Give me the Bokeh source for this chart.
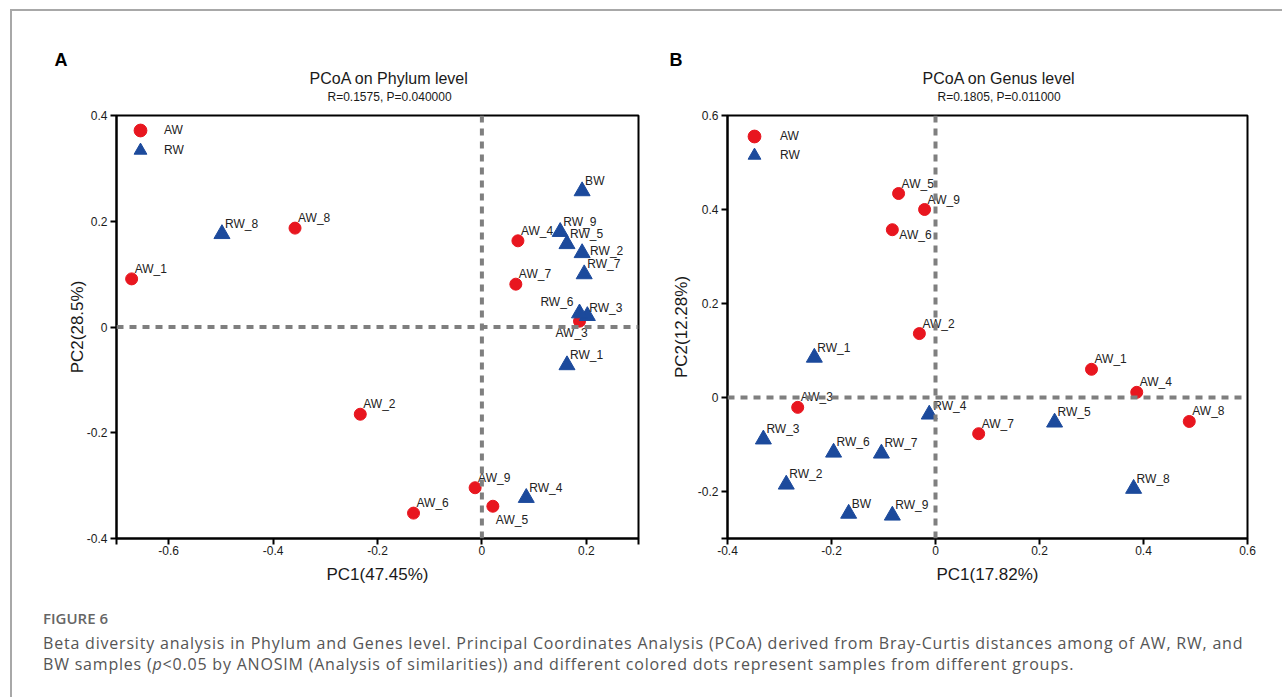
from bokeh.plotting import figure
from bokeh.models import (Range1d, FixedTicker, Span, Title, Legend, LegendItem,
                          CustomJSTickFormatter, ColumnDataSource, Div)
from bokeh.layouts import column, row
from bokeh.embed import file_html
from bokeh.resources import INLINE
from bokeh.core.properties import value

# ---------------- data: panel A (Phylum) ----------------
a_aw_names = ["AW_1", "AW_2", "AW_3", "AW_4", "AW_5", "AW_6", "AW_7", "AW_8", "AW_9"]
a_aw_pc1 = [-0.671, -0.233, 0.187, 0.069, 0.021, -0.131, 0.065, -0.358, -0.013]
a_aw_pc2 = [0.091, -0.165, 0.011, 0.163, -0.339, -0.352, 0.081, 0.187, -0.304]
a_rw_names = ["RW_1", "RW_2", "RW_3", "RW_4", "RW_5", "RW_6", "RW_7", "RW_8", "RW_9", "BW"]
a_rw_pc1 = [0.163, 0.192, 0.202, 0.085, 0.163, 0.187, 0.196, -0.498, 0.150, 0.192]
a_rw_pc2 = [-0.072, 0.140, 0.021, -0.323, 0.157, 0.026, 0.100, 0.176, 0.180, 0.257]

# ---------------- data: panel B (Genus) ----------------
b_aw_names = ["AW_1", "AW_2", "AW_3", "AW_4", "AW_5", "AW_6", "AW_7", "AW_8", "AW_9"]
b_aw_pc1 = [0.300, -0.031, -0.265, 0.387, -0.071, -0.083, 0.083, 0.488, -0.021]
b_aw_pc2 = [0.060, 0.136, -0.021, 0.011, 0.434, 0.357, -0.077, -0.051, 0.400]
b_rw_names = ["RW_1", "RW_2", "RW_3", "RW_4", "RW_5", "RW_6", "RW_7", "RW_8", "RW_9", "BW"]
b_rw_pc1 = [-0.233, -0.287, -0.331, -0.012, 0.229, -0.196, -0.104, 0.381, -0.083, -0.167]
b_rw_pc2 = [0.085, -0.185, -0.089, -0.036, -0.053, -0.117, -0.119, -0.194, -0.251, -0.247]

# tick labels
a_xticks = [-0.6, -0.4, -0.2, 0, 0.2]
a_yticks = [-0.4, -0.2, 0, 0.2, 0.4]
b_xticks = [-0.4, -0.2, 0, 0.2, 0.4, 0.6]
b_yticks = [-0.2, 0, 0.2, 0.4, 0.6]

# label placement exceptions (pixel offsets, style only)
a_label_style = {"RW_2": (8, -2, "left"), "RW_6": (-6, -11, "right"), "RW_3": (2, -8, "left"),
                 "AW_3": (-24, 12, "left"), "AW_5": (3, 14, "left")}
b_label_style = {"AW_6": (7, 5, "left"), "RW_4": (4, -8, "left")}

RED = "#e8161f"
BLUE = "#1c4a9c"
FONT = "Liberation Sans"


def make_panel(aw, rw, xr, yr, xt, yt, xminor, yminor, xlabel, ylabel, main, sub, letter,
               width, height, mb, leg_pos, leg_standoff, lstyle, title_offsets, ylab_standoff):
    p = figure(width=width, height=height, x_range=Range1d(*xr), y_range=Range1d(*yr),
               output_backend="svg", toolbar_location=None, title=None,
               min_border_left=mb[0], min_border_right=mb[1], min_border_top=mb[2],
               min_border_bottom=mb[3], background_fill_color="white",
               border_fill_color="white")
    p.grid.visible = False
    p.outline_line_color = "black"
    p.outline_line_width = 2
    p.outline_line_alpha = 1

    fmt = CustomJSTickFormatter(code="return Number(tick.toFixed(1)).toString();")
    p.xaxis.ticker = FixedTicker(ticks=xt, minor_ticks=xminor)
    p.yaxis.ticker = FixedTicker(ticks=yt, minor_ticks=yminor)
    for ax in (p.xaxis[0], p.yaxis[0]):
        ax.formatter = fmt
        ax.axis_line_width = 2
        ax.axis_line_color = "black"
        ax.major_tick_line_width = 2
        ax.major_tick_out = 6
        ax.major_tick_in = 0
        ax.minor_tick_line_width = 2
        ax.minor_tick_out = 6
        ax.minor_tick_in = 0
        ax.major_label_text_font = FONT
        ax.major_label_text_font_size = "12px"
        ax.major_label_text_color = "#1a1a1a"
        ax.axis_label_text_font = FONT
        ax.axis_label_text_font_size = "17px"
        ax.axis_label_text_font_style = "normal"
        ax.axis_label_text_color = "#1a1a1a"
    p.xaxis.axis_label = xlabel
    p.yaxis.axis_label = ylabel
    p.xaxis.major_label_standoff = 1
    p.yaxis.major_label_standoff = 3
    p.xaxis.axis_label_standoff = 7
    p.yaxis.axis_label_standoff = ylab_standoff

    for dim in ("width", "height"):
        p.add_layout(Span(location=0, dimension=dim, line_color="#7f7f7f",
                          line_width=4, line_dash="7 6"))

    names_aw, x_aw, y_aw = aw
    names_rw, x_rw, y_rw = rw
    s_aw = ColumnDataSource(dict(x=x_aw, y=y_aw, name=names_aw))
    s_rw = ColumnDataSource(dict(x=x_rw, y=y_rw, name=names_rw))
    r_aw = p.scatter("x", "y", source=s_aw, marker="circle", size=12,
                     fill_color=RED, line_color=RED)
    r_rw = p.scatter("x", "y", source=s_rw, marker="triangle", size=16,
                     fill_color=BLUE, line_color=BLUE)

    names = list(names_aw) + list(names_rw)
    xs = list(x_aw) + list(x_rw)
    ys = list(y_aw) + list(y_rw)
    dx, dy, al = [], [], []
    for n in names:
        o = lstyle.get(n, (3, -10, "left"))
        dx.append(o[0]); dy.append(o[1]); al.append(o[2])
    s_lab = ColumnDataSource(dict(x=xs, y=ys, text=names, dx=dx, dy=dy, align=al))
    p.text("x", "y", text="text", source=s_lab, x_offset="dx", y_offset="dy",
           text_align="align", text_baseline="middle", text_font=value(FONT),
           text_font_size="12px", text_color="#222222")

    for lab, rend, pos in (("AW", r_aw, leg_pos[0]), ("RW", r_rw, leg_pos[1])):
        leg = Legend(items=[LegendItem(label=lab, renderers=[rend])],
                     location=pos, margin=0, padding=0, glyph_width=32, glyph_height=32,
                     label_height=20, spacing=0, label_standoff=leg_standoff,
                     label_text_font=FONT, label_text_font_size="12px",
                     label_text_color="#222222", border_line_alpha=0,
                     background_fill_alpha=0)
        p.add_layout(leg)

    off_sub, off_main, off_letter = title_offsets
    p.add_layout(Title(text=sub, align="left", offset=off_sub, text_font=FONT,
                       text_font_size="12px", text_font_style="normal",
                       text_color="#1a1a1a", standoff=24), "above")
    p.add_layout(Title(text=main, align="left", offset=off_main, text_font=FONT,
                       text_font_size="16px", text_font_style="normal",
                       text_color="#1a1a1a", standoff=-23), "above")
    p.add_layout(Title(text=letter, align="left", offset=off_letter, text_font=FONT,
                       text_font_size="18px", text_font_style="bold", text_color="black",
                       standoff=11), "above")
    return p


pA = make_panel((a_aw_names, a_aw_pc1, a_aw_pc2), (a_rw_names, a_rw_pc1, a_rw_pc2),
                (-0.7, 0.3), (-0.4, 0.4), a_xticks, a_yticks, [-0.7, 0.3], [],
                "PC1(47.45%)", "PC2(28.5%)", "PCoA on Phylum level", "R=0.1575, P=0.040000",
                "A", 656, 579, (104, 30, 104, 52), ((8, 392), (8, 372)), 8,
                a_label_style, (211, 193, -62), -3)

pB = make_panel((b_aw_names, b_aw_pc1, b_aw_pc2), (b_rw_names, b_rw_pc1, b_rw_pc2),
                (-0.4, 0.6), (-0.3, 0.6), b_xticks, b_yticks, [], [-0.3],
                "PC1(17.82%)", "PC2(12.28%)", "PCoA on Genus level", "R=0.1805, P=0.011000",
                "B", 604, 579, (59, 25, 104, 52), ((11, 386), (11, 367)), 10,
                b_label_style, (210, 195, -58), 4)

caption_html = (
    "<div style=\"padding-left:26px; font-family:'Open Sans'; color:#555555; white-space:nowrap;\">"
    "<div style=\"font-size:15px; font-weight:600; color:#666666; line-height:18px; margin-top:14px;\">FIGURE 6</div>"
    "<div style=\"font-size:16px; letter-spacing:0.8px; line-height:21px; margin-top:6px;\">"
    "Beta diversity analysis in Phylum and Genes level. Principal Coordinates Analysis (PCoA) "
    "derived from Bray-Curtis distances among of AW, RW, and<br>"
    "BW samples (<i>p</i>&lt;0.05 by ANOSIM (Analysis of similarities)) and different colored "
    "dots represent samples from different groups.</div></div>"
)
cap = Div(text=caption_html, width=1260, height=105)

layout = column(row(pA, pB), cap, margin=(9, 0, 0, 10),
                styles={"border-top": "2px solid #a8a8a8", "border-left": "2px solid #a8a8a8"})

open("out.html", "w").write(file_html(layout, INLINE))
